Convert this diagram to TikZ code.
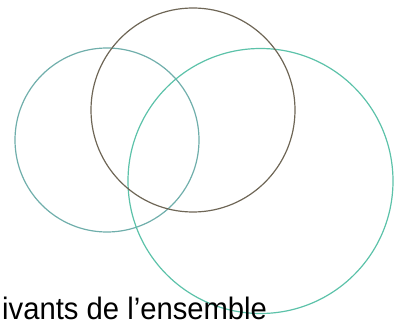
\documentclass[tikz,border=0pt]{standalone}
\usepackage{fontspec}
\setmainfont{Liberation Sans}
\definecolor{tealA}{HTML}{6FAEAB}
\definecolor{brownA}{HTML}{6E6656}
\definecolor{tealB}{HTML}{5CC2A9}
\begin{document}
\begin{tikzpicture}[x=1pt,y=1pt,
  ring/.style={line width=1.2pt},
  label/.style={inner sep=0pt, anchor=base west, xscale=0.943, transform shape, font=\fontsize{31}{36}\selectfont}]
\useasboundingbox (0,0) rectangle (394,322);
\draw[ring, tealA] (107,182) circle (92);
\draw[ring, tealB] (260.5,141) circle (132.5);
\draw[ring, brownA] (193,212) circle (102);
\node[label] (txt) at (2,3) {ivants de l’ensemble};
\end{tikzpicture}
\end{document}
